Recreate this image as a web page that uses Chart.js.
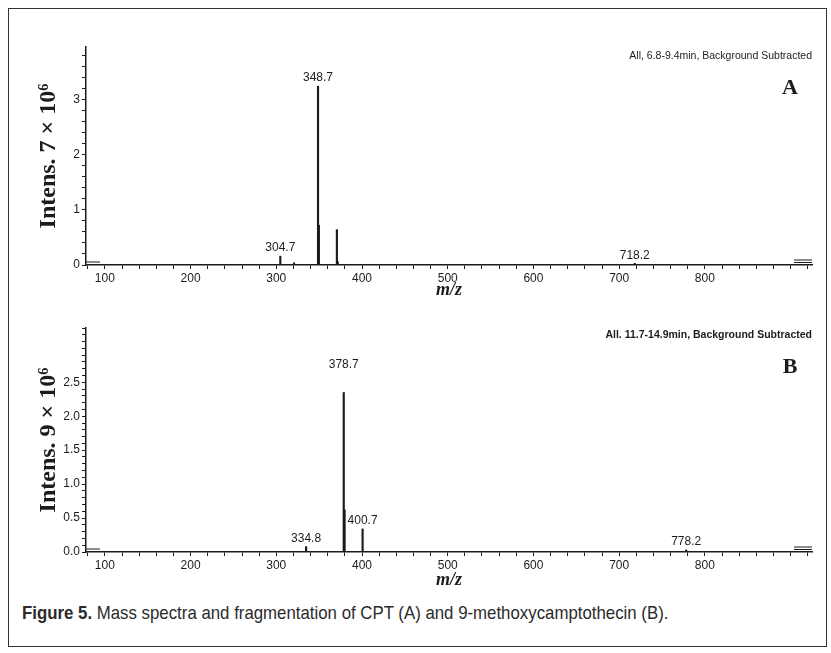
<!DOCTYPE html>
<html>
<head>
<meta charset="utf-8">
<script src="https://cdn.jsdelivr.net/npm/chart.js@4.4.1/dist/chart.umd.min.js"></script>
<style>
  body { margin: 0; background: #fff; }
  #page { position: relative; width: 831px; height: 653px; overflow: hidden; background: #fff; }
  #frame { position: absolute; left: 8px; top: 8px; width: 819px; height: 639px; border: 1px solid #333; box-sizing: border-box; }
  .panel { position: absolute; left: 0; width: 831px; }
  #panelA { top: 0; height: 303px; }
  #panelB { top: 300px; height: 293px; }
  #caption { position: absolute; left: 22px; top: 602px; font: 19px "Liberation Sans", Arial, sans-serif; color: #2b2b2b; white-space: nowrap; transform: scaleX(0.885); transform-origin: left top; }
  #caption b { font-weight: bold; }
</style>
</head>
<body>
<div id="page">
  <div id="frame"></div>
  <div class="panel" id="panelA"><canvas id="chartA"></canvas></div>
  <div class="panel" id="panelB"><canvas id="chartB"></canvas></div>
  <div id="caption"><b>Figure 5.</b> Mass spectra and fragmentation of CPT (A) and 9-methoxycamptothecin (B).</div>
</div>
<script>
// spectrum A: CPT, intensity in units of 7 x 10^6
var mzA = [304.7, 320.7, 348.7, 349.7, 370.7, 371.7, 718.2];
var intensA = [0.16, 0.04, 3.24, 0.72, 0.64, 0.06, 0.03];
var peakTextA = ["304.7", "", "348.7", "", "", "", "718.2"];

// spectrum B: 9-methoxycamptothecin, intensity in units of 9 x 10^6
var mzB = [334.8, 378.7, 379.7, 400.7, 778.2];
var intensB = [0.08, 2.35, 0.62, 0.34, 0.03];
var peakTextB = ["334.8", "378.7", "", "400.7", "778.2"];

var mzTickLabels = [100, 200, 300, 400, 500, 600, 700, 800];
var yTickLabelsA = [0, 1, 2, 3];
var yTickLabelsB = [0, 0.5, 1.0, 1.5, 2.0, 2.5];

var ink = "#1c1c1c";
var tickFont = { family: "'Liberation Sans', Arial, sans-serif", size: 12 };

// extra lift for labels that sit well above their peak in the print
var labelLift = { "378.7": 20 };

var peakLabels = {
  id: "peakLabels",
  afterDatasetsDraw: function (chart, args, opts) {
    var ctx = chart.ctx;
    var meta = chart.getDatasetMeta(0);
    ctx.save();
    ctx.fillStyle = ink;
    ctx.font = "12px 'Liberation Sans', Arial, sans-serif";
    ctx.textAlign = "center";
    ctx.textBaseline = "bottom";
    opts.texts.forEach(function (t, i) {
      if (!t) return;
      var el = meta.data[i];
      ctx.fillText(t, el.x, el.y - 2 - (labelLift[t] || 0));
    });
    ctx.restore();
  }
};

var cornerNote = {
  id: "cornerNote",
  afterDraw: function (chart, args, opts) {
    var ctx = chart.ctx, a = chart.chartArea;
    ctx.save();
    ctx.fillStyle = ink;
    ctx.textAlign = "right";
    ctx.textBaseline = "middle";
    ctx.font = opts.runFont;
    ctx.fillText(opts.run, a.right, a.top + opts.runDy);
    ctx.textAlign = "center";
    ctx.font = "bold 22px 'Liberation Serif', 'Times New Roman', serif";
    ctx.fillText(opts.tag, a.right - 22, a.top + opts.tagDy);
    // zoom markers left by the acquisition software at the axis ends
    ctx.strokeStyle = ink;
    ctx.lineWidth = 1.2;
    ctx.beginPath();
    ctx.moveTo(a.left, a.bottom - 3); ctx.lineTo(a.left + 14, a.bottom - 3);
    ctx.moveTo(a.right - 18, a.bottom - 2.5); ctx.lineTo(a.right, a.bottom - 2.5);
    ctx.moveTo(a.right - 18, a.bottom - 5); ctx.lineTo(a.right, a.bottom - 5);
    ctx.stroke();
    ctx.restore();
  }
};

function near(v, list) {
  for (var i = 0; i < list.length; i++) {
    if (Math.abs(v - list[i]) < 1e-6) return true;
  }
  return false;
}

function makeSpectrum(canvasId, mz, intens, texts, opt) {
  var points = mz.map(function (m, i) { return { x: m, y: intens[i] }; });
  return new Chart(document.getElementById(canvasId), {
    type: "bar",
    data: {
      datasets: [{
        data: points,
        backgroundColor: ink,
        borderWidth: 0,
        barThickness: 1.5
      }]
    },
    plugins: [peakLabels, cornerNote],
    options: {
      responsive: true,
      maintainAspectRatio: false,
      animation: false,
      layout: { padding: { left: 32, right: 19, top: opt.padTop, bottom: 0 } },
      plugins: {
        legend: { display: false },
        tooltip: { enabled: false },
        peakLabels: { texts: texts },
        cornerNote: opt.note
      },
      scales: {
        x: {
          type: "linear",
          min: 78,
          max: 925,
          offset: false,
          grid: { display: true, drawOnChartArea: false, offset: false, tickLength: 4, color: ink },
          border: { display: true, color: ink, width: 1.5 },
          ticks: {
            stepSize: 20,
            includeBounds: false,
            autoSkip: false,
            maxRotation: 0,
            padding: 2,
            color: ink,
            font: tickFont,
            callback: function (v) { return near(v, mzTickLabels) ? String(v) : ""; }
          },
          title: {
            display: true,
            text: "m/z",
            color: ink,
            padding: 2,
            font: { family: "'Liberation Serif', 'Times New Roman', serif", size: 18, weight: "bold", style: "italic" }
          },
          afterFit: function (s) { s.height = opt.xHeight; }
        },
        y: {
          min: 0,
          max: opt.yMax,
          grid: { display: true, drawOnChartArea: false, tickLength: 4, color: ink },
          border: { display: true, color: ink, width: 1.5 },
          ticks: {
            stepSize: opt.yStep,
            includeBounds: false,
            autoSkip: false,
            padding: 2,
            color: ink,
            font: tickFont,
            callback: function (v) { return near(v, opt.yLabels) ? v.toFixed(opt.yDigits) : ""; }
          },
          title: {
            display: true,
            text: opt.yTitle,
            color: ink,
            padding: 2,
            font: { family: "'Liberation Serif', 'Times New Roman', serif", size: 24, weight: "bold" }
          },
          afterFit: function (s) { s.width = 54; }
        }
      }
    }
  });
}

window.onload = function () {
  makeSpectrum("chartA", mzA, intensA, peakTextA, {
    padTop: 47, xHeight: 38, yMax: 3.95, yStep: 0.2, yLabels: yTickLabelsA, yDigits: 0,
    yTitle: "Intens. 7 \u00d7 10\u2076",
    note: { run: "All, 6.8-9.4min, Background Subtracted", runFont: "10.5px 'Liberation Sans', Arial, sans-serif", runDy: 9, tag: "A", tagDy: 41 }
  });
  makeSpectrum("chartB", mzB, intensB, peakTextB, {
    padTop: 28, xHeight: 41, yMax: 3.3, yStep: 0.1, yLabels: yTickLabelsB, yDigits: 1,
    yTitle: "Intens. 9 \u00d7 10\u2076",
    note: { run: "All. 11.7-14.9min, Background Subtracted", runFont: "bold 10.5px 'Liberation Sans', sans-serif", runDy: 7, tag: "B", tagDy: 39 }
  });
};
</script>
</body>
</html>
